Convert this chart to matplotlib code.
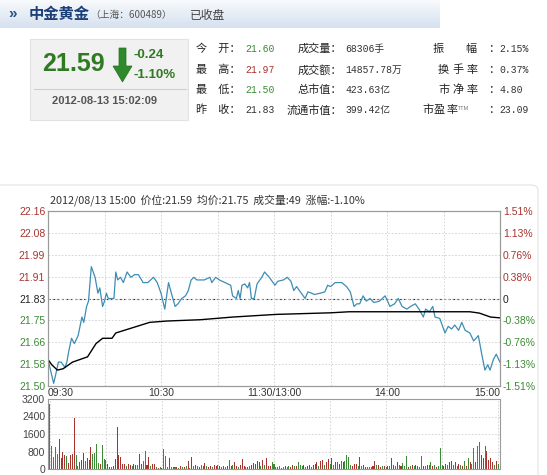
import numpy as np
import matplotlib.pyplot as plt
from matplotlib.patches import FancyBboxPatch, Polygon, Rectangle

W, H = 547, 475
CJK = ['Noto Sans CJK SC', 'DejaVu Sans']
plt.rcParams['font.family'] = ['Liberation Sans', 'Noto Sans CJK SC', 'DejaVu Sans']

# ---- data ----
# minutes after 09:30 (trading time, lunch removed) and price
price_min = [0, 1, 3, 4, 5.5, 7, 9, 10, 11, 12.5, 14, 16, 18, 19, 20.5, 21.5, 23, 25, 26.5, 27.5,
             29, 30, 31, 32, 34, 35, 36, 37, 38.5, 40, 42, 44, 46, 48, 50.5, 53, 56, 58, 60, 62,
             64, 65.5, 67.5, 69, 71, 73, 74.5, 76, 77.5, 79, 81, 83, 86, 87, 89, 91, 94, 97, 98, 100,
             101, 102, 103, 104.5, 106, 107, 108, 109.5, 111, 113.5, 115, 117.5, 120.5, 122, 125, 127,
             129, 130.5, 132, 134, 136.5, 138, 140, 141.5, 144.5, 147, 148.5, 150, 152.5, 156, 158.5,
             160.5, 162.5, 164, 165.5, 167.3, 169, 171, 173, 176, 179, 181.6, 184, 186, 188, 190.5,
             192.5, 195, 197, 199.3, 200.5, 202.5, 204.3, 205.5, 208, 210.8, 212.5, 214.3, 216, 218,
             219.7, 221.5, 224, 226, 228.5, 230.3, 232, 233.5, 234.7, 236.5, 238, 240]
price_val = [21.60, 21.57, 21.51, 21.54, 21.59, 21.59, 21.57, 21.59, 21.63, 21.68, 21.66, 21.69, 21.76,
             21.74, 21.80, 21.82, 21.95, 21.91, 21.85, 21.87, 21.80, 21.82, 21.85, 21.83, 21.83, 21.83,
             21.93, 21.90, 21.91, 21.89, 21.93, 21.91, 21.92, 21.92, 21.89, 21.89, 21.91, 21.89, 21.85,
             21.79, 21.89, 21.85, 21.80, 21.81, 21.83, 21.84, 21.86, 21.90, 21.91, 21.90, 21.90, 21.90,
             21.91, 21.89, 21.91, 21.90, 21.89, 21.88, 21.84, 21.83, 21.86, 21.83, 21.88, 21.885, 21.87,
             21.89, 21.83, 21.83, 21.885, 21.91, 21.93, 21.91, 21.88, 21.895, 21.90, 21.91, 21.895, 21.86,
             21.875, 21.855, 21.83, 21.855, 21.85, 21.845, 21.85, 21.855, 21.88, 21.875, 21.89, 21.89,
             21.875, 21.855, 21.80, 21.81, 21.81, 21.84, 21.82, 21.83, 21.815, 21.82, 21.84, 21.80, 21.81,
             21.83, 21.80, 21.79, 21.80, 21.81, 21.79, 21.76, 21.79, 21.78, 21.80, 21.76, 21.755, 21.70,
             21.725, 21.715, 21.73, 21.71, 21.74, 21.71, 21.70, 21.67, 21.69, 21.62, 21.56, 21.58, 21.56,
             21.60, 21.62, 21.59]
avg_min = [0, 2, 5, 8, 13, 17, 21, 25.5, 29, 34, 36, 45, 54, 63, 81, 98, 121, 150, 160, 206, 224,
           229, 235, 240]
avg_val = [21.60, 21.58, 21.56, 21.565, 21.59, 21.60, 21.61, 21.66, 21.68, 21.68, 21.70, 21.72, 21.74,
           21.745, 21.75, 21.76, 21.77, 21.776, 21.78, 21.78, 21.78, 21.775, 21.76, 21.757]

vol = [2950, 1050, 560, 1010, 700, 1360, 490, 770, 630, 590,
       280, 660, 700, 2320, 630, 140, 300, 420, 730, 350,
       490, 420, 1010, 700, 730, 1150, 280, 250, 1095, 450,
       420, 210, 90, 70, 120, 450, 1900, 620, 560, 210,
       210, 150, 250, 200, 150, 210, 200, 180, 700, 250,
       350, 840, 200, 560, 120, 250, 250, 70, 50, 80,
       60, 910, 590, 100, 490, 90, 100, 80, 70, 60,
       130, 90, 70, 120, 350, 60, 560, 140, 170, 120,
       100, 180, 150, 280, 130, 90, 150, 100, 180, 120,
       200, 130, 80, 150, 110, 160, 420, 120, 200, 300,
       140, 100, 180, 450, 120, 100, 80, 150, 200, 260,
       220, 350, 300, 150, 400, 200, 490, 150, 120, 300,
       250, 100, 80, 120, 60, 90, 150, 100, 130, 80,
       180, 120, 150, 300, 180, 120, 200, 110, 150, 200,
       100, 180, 250, 300, 140, 380, 420, 200, 320, 450,
       250, 500, 200, 300, 330, 250, 380, 300, 350, 630,
       560, 200, 150, 250, 220, 120, 560, 150, 180, 100,
       80, 100, 90, 120, 350, 200, 180, 100, 120, 150,
       100, 140, 160, 490, 200, 150, 300, 180, 150, 280,
       120, 590, 100, 150, 200, 120, 180, 140, 100, 590,
       150, 120, 200, 180, 320, 150, 200, 100, 150, 940,
       200, 130, 250, 180, 300, 350, 200, 300, 150, 250,
       200, 120, 350, 150, 490, 300, 250, 980, 300, 1050,
       1235, 630, 500, 1050, 840, 420, 490, 300, 200, 350, 250]
vol_dir = ("gggggrrrrg" "rrrrggrrrg" "rrrggggrgg" "grrgrrrrrr" "rgrrgrrgrr" "ggrrgrrgrg"
           "rgggrgrgrg" "rgrgrgrgrg" "rgrrgrrgrr" "grgrgrgrgr" "rgrrrgrgrr" "rrrgrgrrrg"
           "ggrgrgrggr" "rgrgggrgrr" "grrrgrrgrr" "grgrgrgrgg" "ggrrrgrgrr" "gggrrgrrgr"
           "grgrrgrgrg" "ggrgrgrrgg" "rgrggrgrgg" "grrgrrgrgr" "grgrgrggrg" "grrgrrrrgrg")

left_labels = ['21.50', '21.58', '21.66', '21.75', '21.83', '21.91', '21.99', '22.08', '22.16']
right_labels = ['-1.51%', '-1.13%', '-0.76%', '-0.38%', '0', '0.38%', '0.76%', '1.13%', '1.51%']
time_labels = ['09:30', '10:30', '11:30/13:00', '14:00', '15:00']
vol_ticks = [0, 800, 1600, 2400, 3200]

quote_labels = [['今　开', '最　高', '最　低', '昨　收'],
                ['成交量', '成交额', '总市值', '流通市值']]
quote_values = [['21.60', '21.97', '21.50', '21.83'],
                ['68306手', '14857.78万', '423.63亿', '399.42亿']]
col3_labels = ['振幅', '换手率', '市净率', '市盈率']
col3_values = ['2.15%', '0.37%', '4.80', '23.09']

RED = '#a8332e'
GREEN = '#3b8a35'
GRID = '#cfcfcf'

fig = plt.figure(figsize=(W / 100, H / 100), dpi=100)


def ftext(x, y, s, **kw):
    return fig.text(x / W, 1 - y / H, s, **kw)


# ---- header bar ----
hdr = fig.add_axes([0, 1 - 28 / H, 440 / W, 28 / H])
grad = np.linspace(0, 1, 50).reshape(-1, 1)
hdr.imshow(grad, aspect='auto', cmap=plt.matplotlib.colors.LinearSegmentedColormap.from_list(
    'hdr', ['#f8fafd', '#d5e1ef']), extent=[0, 1, 0, 1])
hdr.axis('off')
ftext(8, 14, '»', fontsize=11, color='#2c4f86', va='center', fontweight='bold')
ftext(29, 14, '中金黄金', fontsize=11, color='#1d3f78', va='center', fontweight='bold', family=CJK)
ftext(90, 15, '（上海：600489）', fontsize=7, color='#555555', va='center', family=CJK)
ftext(190, 15, '已收盘', fontsize=8.5, color='#444444', va='center', family=CJK)

# ---- quote box ----
fig.add_artist(Rectangle((30 / W, 1 - 120 / H), 158 / W, 81 / H, transform=fig.transFigure,
                         facecolor='#f1f1f1', edgecolor='#e2e2e2', lw=0.8))
ftext(73, 64, '21.59', fontsize=18, fontweight='bold', color='#2f7a22', ha='center', va='center')
arrow = [(119, 48), (126, 48), (126, 66), (132, 66), (122.5, 82), (113, 66), (119, 66)]
fig.add_artist(Polygon([(x / W, 1 - y / H) for x, y in arrow], closed=True,
                       transform=fig.transFigure, facecolor='#2e8a2a', edgecolor='#24701f', lw=0.5))
ftext(134, 55, '-0.24', fontsize=9.5, color='#2f7a22', va='center', fontweight='bold')
ftext(134, 75, '-1.10%', fontsize=9.5, color='#2f7a22', va='center', fontweight='bold')
fig.add_artist(plt.Line2D([34 / W, 186 / W], [1 - 89 / H, 1 - 89 / H], transform=fig.transFigure,
                          color='#d0d0d0', lw=0.8))
ftext(105, 101, '2012-08-13 15:02:09', fontsize=8, color='#555555', ha='center', va='center',
      fontweight='bold')

# ---- quote table ----
rows_y = [49, 70, 90, 110]
val_colors = [GREEN, RED, GREEN, '#333333']
for i, y in enumerate(rows_y):
    ftext(241, y, quote_labels[0][i] + '：', fontsize=8, family=CJK, ha='right', va='center', color='#222222')
    ftext(245, y, quote_values[0][i], fontsize=7, family=['Liberation Mono', 'Noto Sans CJK SC'],
          va='center', color=val_colors[i])
    ftext(342, y, quote_labels[1][i] + '：', fontsize=8, family=CJK, ha='right', va='center', color='#222222')
    ftext(345, y, quote_values[1][i], fontsize=7, family=['Liberation Mono', 'Noto Sans CJK SC'],
          va='center', color='#333333')
    lab = col3_labels[i]
    if len(lab) == 2:
        xs = [433, 465]
    elif i == 3:
        xs = [422, 434, 446]
    else:
        xs = [438, 452, 466]
    for ch, xc in zip(lab, xs):
        ftext(xc, y, ch, fontsize=8, family=CJK, va='center', color='#222222')
    if i == 3:
        ftext(458, y - 2, 'TTM', fontsize=4, va='center', color='#777777')
    ftext(488, y, '：', fontsize=8, family=CJK, va='center', color='#222222')
    ftext(499, y, col3_values[i], fontsize=7, family='Liberation Mono', va='center', color='#333333')

# ---- chart frame ----
fig.add_artist(FancyBboxPatch((-6 / W, -10 / H), 544 / W, (H - 185 + 10) / H,
                              boxstyle='round,pad=0,rounding_size=0.012', transform=fig.transFigure,
                              facecolor='none', edgecolor='#e3e3e3', lw=0.8))
ftext(50, 200, '2012/08/13 15:00  价位:21.59  均价:21.75  成交量:49  涨幅:-1.10%',
      fontsize=7.8, family=CJK, va='center', color='#333333')

# ---- price panel ----
ax = fig.add_axes([48 / W, 1 - 386 / H, 452 / W, 175 / H])
ax.plot(price_min, price_val, color='#3d8db5', lw=0.9)
ax.plot(avg_min, avg_val, color='black', lw=1.0)
ax.axhline(21.83, color='#333333', lw=0.8, ls=(0, (2, 2)), zorder=1)
ax.set_xlim(0, 240)
ax.set_ylim(21.50, 22.16)
yt = np.linspace(21.50, 22.16, 9)
ax.set_yticks(yt)
ax.set_yticklabels(left_labels)
ax.set_xticks([0, 60, 120, 180, 240])
ax.set_xticklabels(time_labels)
ax.set_xticks([30, 90, 150, 210], minor=True)
ax.grid(True, which='both', color=GRID, lw=0.6, ls=(0, (2, 2)))
ax.tick_params(which='both', length=0, labelsize=7.5, pad=2)
ax.tick_params(axis='x', pad=1.5, labelcolor='#333333')
xl = ax.get_xticklabels()
xl[0].set_ha('left')
xl[-1].set_ha('right')
for k, t in enumerate(ax.get_yticklabels()):
    t.set_color(GREEN if k < 4 else ('#222222' if k == 4 else RED))
ax2 = ax.twinx()
ax2.set_ylim(21.50, 22.16)
ax2.set_yticks(yt)
ax2.set_yticklabels(right_labels)
ax2.tick_params(length=0, labelsize=7.5, pad=2)
for k, t in enumerate(ax2.get_yticklabels()):
    t.set_color(GREEN if k < 4 else ('#222222' if k == 4 else RED))
for a in (ax, ax2):
    for s in a.spines.values():
        s.set_color('#9a9a9a')
        s.set_linewidth(0.8)

# ---- volume panel ----
axv = fig.add_axes([48 / W, 1 - 469 / H, 452 / W, 70 / H])
mins = np.arange(len(vol))
cols = [RED if c == 'r' else GREEN for c in vol_dir]
axv.bar(mins, vol, width=0.55, color=cols, zorder=2)
axv.set_xlim(-1, 241)
axv.set_ylim(0, 3200)
axv.set_yticks(vol_ticks)
axv.set_yticklabels([str(v) for v in vol_ticks])
axv.set_xticks(range(0, 241, 30))
axv.set_xticklabels([])
axv.grid(True, color=GRID, lw=0.6, ls=(0, (2, 2)))
axv.tick_params(length=0, labelsize=7.5, pad=2, labelcolor='#444444')
for s in axv.spines.values():
    s.set_color('#9a9a9a')
    s.set_linewidth(0.8)

fig.savefig('out.png', dpi=100)
